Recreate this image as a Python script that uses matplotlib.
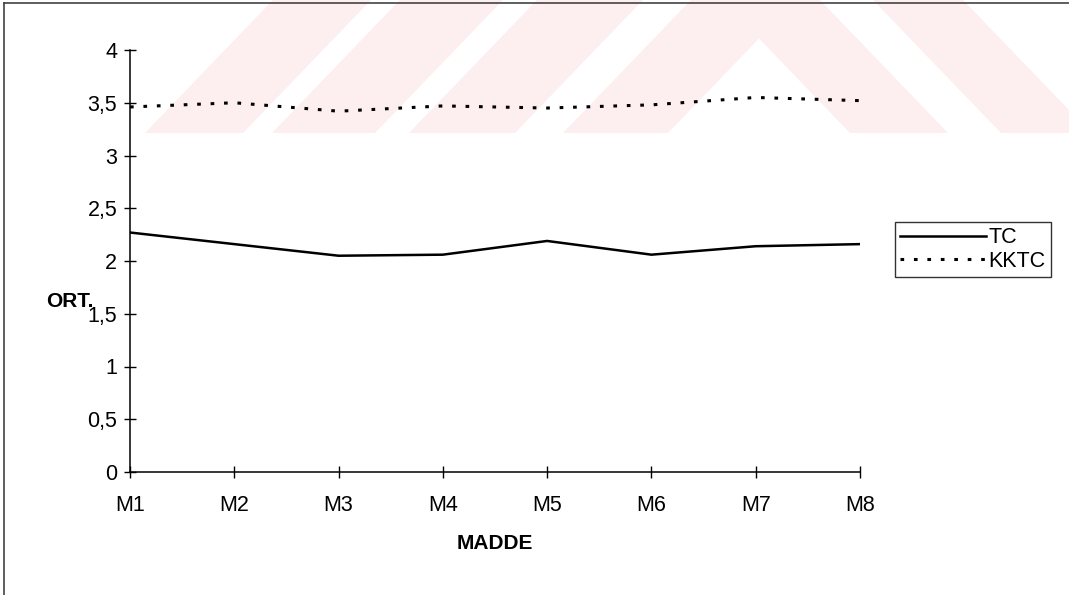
import matplotlib.pyplot as plt
from matplotlib.patches import Polygon
from matplotlib.lines import Line2D

plt.rcParams['font.family'] = ['Liberation Sans', 'DejaVu Sans']

# veriler
maddeler = ['M1', 'M2', 'M3', 'M4', 'M5', 'M6', 'M7', 'M8']
tc = [2.27, 2.16, 2.05, 2.06, 2.19, 2.06, 2.14, 2.16]
kktc = [3.46, 3.50, 3.42, 3.47, 3.45, 3.48, 3.55, 3.52]
y_ticks = [0, 0.5, 1, 1.5, 2, 2.5, 3, 3.5, 4]
y_labels = ['0', '0,5', '1', '1,5', '2', '2,5', '3', '3,5', '4']

W, H = 1069, 595
fig = plt.figure(figsize=(W / 100, H / 100), dpi=100)

# arka plandaki soluk filigran (piksel koordinatlari)
pembe = '#fdeef0'
bant = 133
egik = 128
for x0, x1 in [(273, 371), (400, 503), (537, 643), (691, 796)]:
    pts = [(x0, 0), (x1, 0), (x1 - egik, bant), (x0 - egik, bant)]
    fig.patches.append(Polygon([(x / W, 1 - y / H) for x, y in pts], closed=True,
                               transform=fig.transFigure, facecolor=pembe,
                               edgecolor='none', zorder=0))
for x0, x1 in [(722, 820), (873, 963)]:
    pts = [(x0, 0), (x1, 0), (x1 + egik, bant), (x0 + egik, bant)]
    fig.patches.append(Polygon([(x / W, 1 - y / H) for x, y in pts], closed=True,
                               transform=fig.transFigure, facecolor=pembe,
                               edgecolor='none', zorder=0))

# cerceve (sol ve ust)
fig.add_artist(Line2D([4 / W, 4 / W], [0, 1 - 3 / H], transform=fig.transFigure,
                      color='#333333', lw=1.1))
fig.add_artist(Line2D([4 / W, 1], [1 - 3 / H, 1 - 3 / H], transform=fig.transFigure,
                      color='#333333', lw=1.1))

ax = fig.add_axes([130 / W, 1 - 472 / H, 730 / W, 422 / H])
ax.patch.set_visible(False)
ax.set_zorder(2)

x = list(range(len(maddeler)))
ax.plot(x, tc, color='black', lw=1.8, label='TC')
ax.plot(x, kktc, color='black', lw=2.2, linestyle=(0, (1.2, 3.2)), label='KKTC')

ax.set_xlim(0, len(maddeler) - 1)
ax.set_ylim(0, 4)
ax.set_xticks(x)
ax.set_xticklabels(maddeler)
ax.set_yticks(y_ticks)
ax.set_yticklabels(y_labels)

for s in ['top', 'right']:
    ax.spines[s].set_visible(False)
for s in ['left', 'bottom']:
    ax.spines[s].set_linewidth(1.1)

ax.tick_params(axis='both', direction='inout', length=8.5, width=1, labelsize=15.5)
ax.tick_params(axis='y', pad=5)
ax.tick_params(axis='x', pad=12)

ax.set_xlabel('MADDE', fontsize=15, fontweight='bold', labelpad=13)
ax.set_ylabel('ORT.', fontsize=15, fontweight='bold', rotation=0, va='center', ha='center')
ax.yaxis.set_label_coords(-0.083, 0.405)

leg = ax.legend(loc='upper left', bbox_to_anchor=(895 / W, 1 - 222 / H),
                bbox_transform=fig.transFigure, fontsize=15.5, frameon=True,
                fancybox=False, edgecolor='black', handlelength=4.0,
                handletextpad=0.1, borderpad=0.25, labelspacing=0.1,
                borderaxespad=0)
leg.get_frame().set_linewidth(1.0)

fig.savefig('out.png', dpi=100)
